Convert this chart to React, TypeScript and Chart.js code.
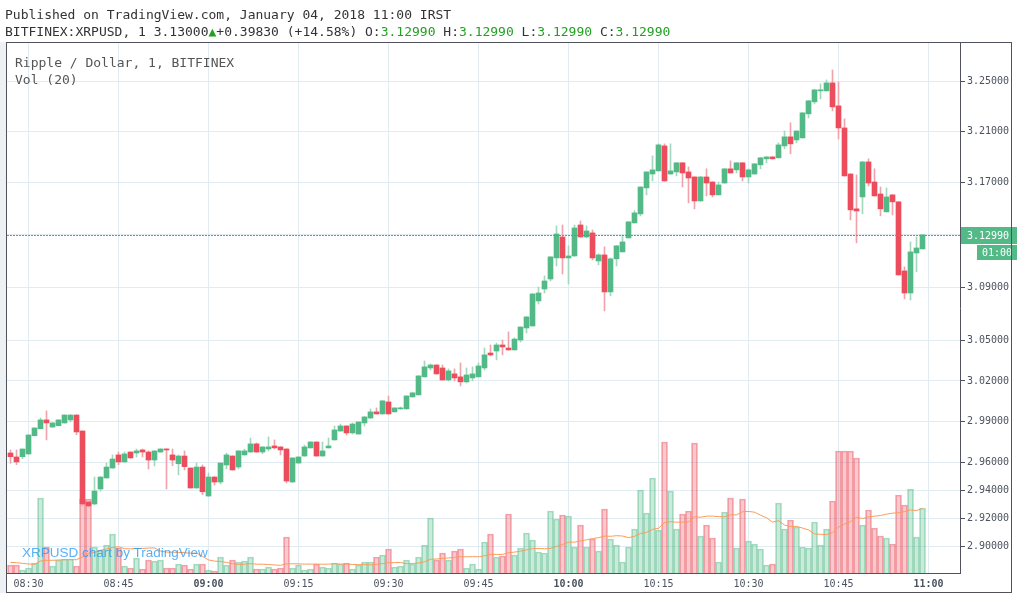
import React, { useEffect, useRef } from 'react';
import { Chart, registerables } from 'chart.js';

Chart.register(...registerables);

// ---------------- DATA ----------------
const startTime = '08:27'; // first 1-minute candle
const opens = [
  2.9672, 2.9643, 2.9645, 2.9665, 2.9798, 2.9849, 2.9913, 2.9861, 2.9871, 2.9891,
  2.9913, 2.9949, 2.9832, 2.9318, 2.9304, 2.9412, 2.9491, 2.9563, 2.9658, 2.9607,
  2.9679, 2.9672, 2.9694, 2.9679, 2.9621, 2.9679, 2.9701, 2.9658, 2.9594, 2.9650,
  2.9563, 2.9419, 2.9570, 2.9361, 2.9498, 2.9462, 2.9585, 2.9650, 2.9570, 2.9658,
  2.9679, 2.9738, 2.9679, 2.9701, 2.9723, 2.9716, 2.9701, 2.9462, 2.9599, 2.9650,
  2.9709, 2.9752, 2.9650, 2.9709, 2.9767, 2.9832, 2.9869, 2.9818, 2.9810, 2.9891,
  2.9927, 2.9972, 2.9957, 3.0045, 2.9972, 2.9994, 2.9994, 3.0082, 3.0097, 3.0230,
  3.0296, 3.0318, 3.0296, 3.0207, 3.0252, 3.0230, 3.0193, 3.0222, 3.0230, 3.0296,
  3.0407, 3.0422, 3.0467, 3.0444, 3.0430, 3.0504, 3.0594, 3.0609, 3.0797, 3.0887,
  3.0963, 3.1123, 3.1283, 3.1123, 3.1138, 3.1375, 3.1283, 3.1314, 3.1100, 3.1146,
  3.0865, 3.1116, 3.1169, 3.1276, 3.1391, 3.1460, 3.1661, 3.1769, 3.1793, 3.1988,
  3.1769, 3.1785, 3.1856, 3.1785, 3.1746, 3.1560, 3.1746, 3.1707, 3.1607, 3.1699,
  3.1809, 3.1801, 3.1856, 3.1746, 3.1769, 3.1840, 3.1887, 3.1902, 3.1895, 3.1988,
  3.2059, 3.2035, 3.2051, 3.2240, 3.2335, 3.2422, 3.2422, 3.2485, 3.2303, 3.2129,
  3.1769, 3.1499, 3.1591, 3.1863, 3.1707, 3.1614, 3.1476, 3.1607, 3.1553, 3.1024,
  3.0857, 3.1161, 3.1192,
];
const highs = [
  2.9694, 2.9694, 2.9701, 2.9806, 2.9856, 2.9927, 2.9979, 2.9893, 2.9915, 2.9951,
  2.9951, 2.9951, 2.9834, 2.9325, 2.9498, 2.9500, 2.9599, 2.9658, 2.9679, 2.9679,
  2.9681, 2.9701, 2.9701, 2.9687, 2.9689, 2.9703, 2.9703, 2.9701, 2.9658, 2.9687,
  2.9565, 2.9599, 2.9585, 2.9527, 2.9500, 2.9601, 2.9672, 2.9652, 2.9689, 2.9701,
  2.9781, 2.9745, 2.9718, 2.9789, 2.9767, 2.9718, 2.9703, 2.9638, 2.9645, 2.9730,
  2.9754, 2.9754, 2.9752, 2.9781, 2.9869, 2.9883, 2.9871, 2.9891, 2.9900, 2.9937,
  2.9994, 3.0001, 3.0055, 3.0089, 3.0003, 3.0008, 3.0091, 3.0114, 3.0239, 3.0348,
  3.0326, 3.0320, 3.0318, 3.0289, 3.0289, 3.0333, 3.0296, 3.0304, 3.0333, 3.0444,
  3.0467, 3.0481, 3.0504, 3.0564, 3.0520, 3.0603, 3.0679, 3.0852, 3.0902, 3.0986,
  3.1133, 3.1368, 3.1375, 3.1215, 3.1375, 3.1406, 3.1368, 3.1337, 3.1154, 3.1207,
  3.1123, 3.1217, 3.1298, 3.1401, 3.1485, 3.1670, 3.1787, 3.1910, 3.2004, 3.2004,
  3.2004, 3.1858, 3.1858, 3.1824, 3.1748, 3.1748, 3.1809, 3.1709, 3.1707, 3.1811,
  3.1871, 3.1858, 3.1858, 3.1809, 3.1850, 3.1897, 3.1904, 3.1904, 3.2012, 3.2105,
  3.2169, 3.2107, 3.2250, 3.2345, 3.2432, 3.2477, 3.2509, 3.2588, 3.2493, 3.2200,
  3.1771, 3.1762, 3.1865, 3.1887, 3.1809, 3.1668, 3.1661, 3.1609, 3.1555, 3.1055,
  3.1245, 3.1283, 3.1301,
];
const lows = [
  2.9597, 2.9587, 2.9631, 2.9662, 2.9796, 2.9847, 2.9767, 2.9859, 2.9869, 2.9889,
  2.9898, 2.9805, 2.9292, 2.9282, 2.9297, 2.9397, 2.9489, 2.9561, 2.9587, 2.9605,
  2.9634, 2.9643, 2.9643, 2.9556, 2.9578, 2.9677, 2.9412, 2.9580, 2.9513, 2.9549,
  2.9417, 2.9417, 2.9371, 2.9359, 2.9440, 2.9448, 2.9556, 2.9547, 2.9556, 2.9656,
  2.9677, 2.9677, 2.9667, 2.9687, 2.9701, 2.9658, 2.9455, 2.9460, 2.9597, 2.9648,
  2.9707, 2.9648, 2.9648, 2.9707, 2.9765, 2.9830, 2.9803, 2.9810, 2.9808, 2.9869,
  2.9925, 2.9955, 2.9955, 2.9955, 2.9970, 2.9990, 2.9992, 3.0080, 3.0095, 3.0228,
  3.0281, 3.0250, 3.0205, 3.0200, 3.0200, 3.0163, 3.0185, 3.0200, 3.0228, 3.0281,
  3.0385, 3.0356, 3.0393, 3.0428, 3.0428, 3.0489, 3.0556, 3.0607, 3.0774, 3.0857,
  3.0948, 3.1062, 3.1001, 3.0925, 3.1136, 3.1281, 3.1276, 3.1108, 3.1070, 3.0722,
  3.0835, 3.1062, 3.1167, 3.1274, 3.1389, 3.1445, 3.1607, 3.1715, 3.1791, 3.1713,
  3.1767, 3.1754, 3.1668, 3.1545, 3.1499, 3.1558, 3.1599, 3.1591, 3.1605, 3.1697,
  3.1775, 3.1777, 3.1715, 3.1699, 3.1767, 3.1809, 3.1856, 3.1885, 3.1893, 3.1965,
  3.1926, 3.2012, 3.2049, 3.2208, 3.2319, 3.2358, 3.2420, 3.2263, 3.2043, 3.1752,
  3.1414, 3.1238, 3.1460, 3.1676, 3.1597, 3.1445, 3.1474, 3.1452, 3.0992, 3.0812,
  3.0804, 3.1017, 3.1190,
];
const closes = [
  2.9645, 2.9607, 2.9701, 2.9803, 2.9854, 2.9913, 2.9891, 2.9891, 2.9913, 2.9949,
  2.9949, 2.9825, 2.9304, 2.9290, 2.9397, 2.9498, 2.9570, 2.9628, 2.9607, 2.9665,
  2.9636, 2.9687, 2.9679, 2.9621, 2.9687, 2.9701, 2.9694, 2.9621, 2.9650, 2.9573,
  2.9419, 2.9570, 2.9392, 2.9498, 2.9462, 2.9599, 2.9658, 2.9549, 2.9687, 2.9687,
  2.9738, 2.9679, 2.9716, 2.9716, 2.9709, 2.9694, 2.9469, 2.9636, 2.9643, 2.9716,
  2.9752, 2.9650, 2.9687, 2.9723, 2.9840, 2.9869, 2.9818, 2.9883, 2.9898, 2.9935,
  2.9972, 2.9957, 3.0053, 2.9957, 3.0001, 3.0001, 3.0089, 3.0112, 3.0237, 3.0304,
  3.0318, 3.0252, 3.0207, 3.0274, 3.0222, 3.0193, 3.0244, 3.0252, 3.0311, 3.0393,
  3.0393, 3.0467, 3.0452, 3.0430, 3.0511, 3.0601, 3.0677, 3.0850, 3.0857, 3.0948,
  3.1131, 3.1306, 3.1123, 3.1138, 3.1352, 3.1283, 3.1329, 3.1123, 3.1146, 3.0865,
  3.1116, 3.1215, 3.1245, 3.1399, 3.1468, 3.1668, 3.1785, 3.1801, 3.1996, 3.1715,
  3.1793, 3.1856, 3.1777, 3.1738, 3.1560, 3.1746, 3.1699, 3.1607, 3.1684, 3.1809,
  3.1777, 3.1856, 3.1746, 3.1801, 3.1848, 3.1895, 3.1902, 3.1887, 3.1996, 3.2059,
  3.2004, 3.2105, 3.2248, 3.2343, 3.2430, 3.2430, 3.2485, 3.2295, 3.2129, 3.1754,
  3.1491, 3.1483, 3.1863, 3.1699, 3.1599, 3.1499, 3.1591, 3.1553, 3.0994, 3.0857,
  3.1169, 3.1199, 3.1299,
];
// volume, thousands
const volumes = [
  8, 8, 3, 5, 10, 75, 26, 7, 13, 14,
  14, 7, 74, 74, 26, 23, 28, 39, 25, 7,
  5, 15, 4, 13, 12, 13, 5, 5, 9, 8,
  4, 9, 9, 3, 2, 16, 8, 13, 11, 12,
  16, 4, 4, 6, 4, 5, 36, 5, 8, 3,
  4, 9, 6, 5, 10, 9, 10, 4, 8, 11,
  11, 16, 18, 24, 6, 7, 13, 9, 16, 28,
  55, 13, 20, 13, 22, 24, 5, 9, 4, 31,
  39, 16, 17, 59, 18, 25, 40, 33, 21, 20,
  62, 54, 58, 57, 26, 48, 26, 34, 22, 64,
  34, 28, 11, 26, 44, 83, 60, 95, 43, 131,
  82, 44, 59, 62, 130, 37, 48, 35, 11, 61,
  75, 25, 74, 32, 29, 24, 8, 9, 70, 44,
  53, 46, 26, 25, 51, 28, 44, 72, 122, 122,
  122, 115, 48, 63, 45, 37, 35, 29, 78, 68,
  84, 36, 65,
];
// Vol MA(20) values of the first bars (their history lies left of the view)
const volumeMaHead = [10.7, 10.3, 9.7, 9, 8.7, 12, 12.7, 12.7, 13, 13.3, 13.3, 13.3, 16, 19.7, 20.7, 22.7, 24, 25.3, 26.3];
const maLength = 20;
const timeTicks = ['08:30', '08:45', '09:00', '09:15', '09:30', '09:45', '10:00', '10:15', '10:30', '10:45', '11:00'];
const priceTicks = [2.9, 2.92, 2.94, 2.96, 2.99, 3.02, 3.05, 3.09, 3.13, 3.17, 3.21, 3.25];
const countdown = '01:00';

// ---------------- STYLE ----------------
const UP = '#53b987';
const DOWN = '#eb4d5c';
const UP_WICK = '#a3d8be';
const DOWN_WICK = '#f0a3ab';
const UP_VOL = 'rgba(83,185,135,0.3)';
const DOWN_VOL = 'rgba(235,77,92,0.3)';
const UP_VOL_B = 'rgba(83,185,135,0.5)';
const DOWN_VOL_B = 'rgba(235,77,92,0.5)';
const GRID = '#e1ecf2';
const AXIS = '#50535e';
const TEXT = '#4c525e';
const MONO = '"DejaVu Sans Mono", "Liberation Mono", monospace';

function toMin(s: string) {
  const [h, m] = s.split(':').map(Number);
  return h * 60 + m;
}
const t0 = toMin('08:30');
const xs = opens.map((_, i) => toMin(startTime) - t0 + i);
const isUp = opens.map((o, i) => closes[i] >= o);

const volMa = volumes.map((_, i) => {
  if (i < volumeMaHead.length) return volumeMaHead[i];
  let s = 0;
  for (let j = i - maLength + 1; j <= i; j++) s += volumes[j];
  return s / maLength;
});

const lastPricePlugin = {
  id: 'lastPrice',
  afterDatasetsDraw(chart: any) {
    const { ctx, chartArea, scales } = chart;
    const y = Math.round(scales.y.getPixelForValue(closes[closes.length - 1])) + 0.5;
    ctx.save();
    ctx.strokeStyle = '#3fae78';
    ctx.lineWidth = 1;
    ctx.setLineDash([2, 1]);
    ctx.beginPath();
    ctx.moveTo(chartArea.left, y);
    ctx.lineTo(chartArea.right, y);
    ctx.stroke();
    ctx.restore();
  },
  afterDraw(chart: any) {
    const { ctx, chartArea, scales } = chart;
    const y = Math.round(scales.y.getPixelForValue(closes[closes.length - 1]));
    const x = chartArea.right + 1;
    ctx.save();
    ctx.fillStyle = UP;
    ctx.fillRect(x, y - 8, 56, 17);
    ctx.fillRect(x + 16, y + 10, 40, 15);
    ctx.fillStyle = '#ffffff';
    ctx.font = '10px ' + MONO;
    ctx.textBaseline = 'middle';
    ctx.textAlign = 'left';
    ctx.fillText(closes[closes.length - 1].toFixed(5), x + 6, y + 1);
    ctx.fillText(countdown, x + 21, y + 18);
    ctx.restore();
  },
};

const framePlugin = {
  id: 'frame',
  beforeDraw(chart: any) {
    const { ctx, chartArea } = chart;
    ctx.save();
    ctx.fillStyle = '#eef1f4';
    ctx.fillRect(0, chartArea.top - 1, chartArea.left - 1, chartArea.bottom - chartArea.top + 21);
    ctx.restore();
  },
  afterDraw(chart: any) {
    const { ctx, chartArea } = chart;
    ctx.save();
    ctx.strokeStyle = AXIS;
    ctx.lineWidth = 1;
    ctx.strokeRect(chartArea.left - 0.5, chartArea.top - 0.5, chartArea.right - chartArea.left + 52, chartArea.bottom - chartArea.top + 20);
    ctx.restore();
  },
};

function CandleChart() {
  const ref = useRef<HTMLCanvasElement | null>(null);
  useEffect(() => {
    if (!ref.current) return;
    const chart = new Chart(ref.current, {
      type: 'bar',
      data: {
        datasets: [
          {
            type: 'bar',
            label: 'body',
            data: xs.map((x, i) => ({ x, y: [opens[i], closes[i]] })) as any,
            backgroundColor: isUp.map((u) => (u ? UP : DOWN)),
            barThickness: 5,
            minBarLength: 1,
            grouped: false,
            yAxisID: 'y',
            order: 0,
          },
          {
            type: 'bar',
            label: 'wick',
            data: xs.map((x, i) => ({ x, y: [lows[i], highs[i]] })) as any,
            backgroundColor: isUp.map((u) => (u ? UP_WICK : DOWN_WICK)),
            barThickness: 1,
            grouped: false,
            yAxisID: 'y',
            order: 1,
          },
          {
            type: 'line',
            label: 'Vol MA',
            data: xs.map((x, i) => ({ x, y: volMa[i] })) as any,
            borderColor: '#ff9a52',
            borderWidth: 1,
            pointRadius: 0,
            tension: 0,
            yAxisID: 'yv',
            order: 2,
          },
          {
            type: 'bar',
            label: 'Vol',
            data: xs.map((x, i) => ({ x, y: volumes[i] })) as any,
            backgroundColor: isUp.map((u) => (u ? UP_VOL : DOWN_VOL)),
            borderColor: isUp.map((u) => (u ? UP_VOL_B : DOWN_VOL_B)),
            borderWidth: 1,
            barThickness: 6,
            grouped: false,
            yAxisID: 'yv',
            order: 3,
          },
        ],
      },
      options: {
        animation: false,
        responsive: false,
        maintainAspectRatio: false,
        layout: { padding: { left: 7, top: 43, right: 7, bottom: 8 } },
        plugins: { legend: { display: false }, tooltip: { enabled: false } },
        scales: {
          x: {
            type: 'linear',
            offset: false,
            min: -(28.5 - 7) / 6,
            max: (960 - 28.5) / 6,
            afterBuildTicks: (s: any) => {
              s.ticks = timeTicks.map((t) => ({ value: toMin(t) - t0 }));
            },
            afterFit: (s: any) => {
              s.height = 19;
            },
            ticks: {
              autoSkip: false,
              maxRotation: 0,
              padding: 5,
              color: TEXT,
              callback: (v: any) => {
                const m = t0 + Number(v);
                const h = Math.floor(m / 60);
                const mm = m % 60;
                return String(h).padStart(2, '0') + ':' + String(mm).padStart(2, '0');
              },
              font: (c: any) => ({
                family: MONO,
                size: 10,
                weight: c.tick && (t0 + c.tick.value) % 60 === 0 ? 'bold' : 'normal',
              }),
            },
            grid: { color: GRID, drawTicks: false, offset: false },
            border: { display: true, color: AXIS },
          },
          y: {
            type: 'logarithmic',
            position: 'right',
            min: 2.8813,
            max: 3.2804,
            afterBuildTicks: (s: any) => {
              s.ticks = priceTicks.map((v) => ({ value: v }));
            },
            afterFit: (s: any) => {
              s.width = 51;
            },
            ticks: {
              autoSkip: false,
              padding: 2,
              color: TEXT,
              font: { family: MONO, size: 10 },
              callback: (v: any) => Number(v).toFixed(5),
            },
            grid: { color: GRID, tickColor: AXIS, tickLength: 5 },
            border: { display: true, color: AXIS },
          },
          yv: {
            type: 'linear',
            display: false,
            min: 0,
            max: 530,
          },
        },
      } as any,
      plugins: [lastPricePlugin, framePlugin],
    });
    return () => chart.destroy();
  }, []);
  return <canvas ref={ref} width={1018} height={600} style={{ position: 'absolute', left: 0, top: 0 }} />;
}

const green = '#22a022';

export default function App() {
  const head: React.CSSProperties = {
    position: 'absolute',
    left: 5,
    font: '13px ' + MONO,
    lineHeight: '16px',
    color: '#333333',
    whiteSpace: 'pre',
  };
  const legend: React.CSSProperties = {
    position: 'absolute',
    left: 15,
    font: '13px ' + MONO,
    lineHeight: '16px',
    color: '#555555',
    whiteSpace: 'pre',
  };
  return (
    <div style={{ position: 'absolute', left: 0, top: 0, width: 1018, height: 600, background: '#ffffff', overflow: 'hidden' }}>
      <CandleChart />
      <div style={{ ...head, top: 7 }}>Published on TradingView.com, January 04, 2018 11:00 IRST</div>
      <div style={{ ...head, top: 24 }}>
        BITFINEX:XRPUSD, 1 3.13000<span style={{ color: green }}>▲</span>+0.39830 (+14.58%) O:<span style={{ color: green }}>3.12990</span> H:<span style={{ color: green }}>3.12990</span> L:<span style={{ color: green }}>3.12990</span> C:<span style={{ color: green }}>3.12990</span>
      </div>
      <div style={{ ...legend, top: 55 }}>Ripple / Dollar, 1, BITFINEX</div>
      <div style={{ ...legend, top: 72 }}>Vol (20)</div>
      <div
        style={{
          position: 'absolute',
          left: 22,
          top: 545,
          font: '13.5px "Liberation Sans", Arial, sans-serif',
          lineHeight: '16px',
          color: 'rgba(33,150,243,0.75)',
          whiteSpace: 'pre',
        }}
      >
        XRPUSD chart by TradingView
      </div>
    </div>
  );
}
